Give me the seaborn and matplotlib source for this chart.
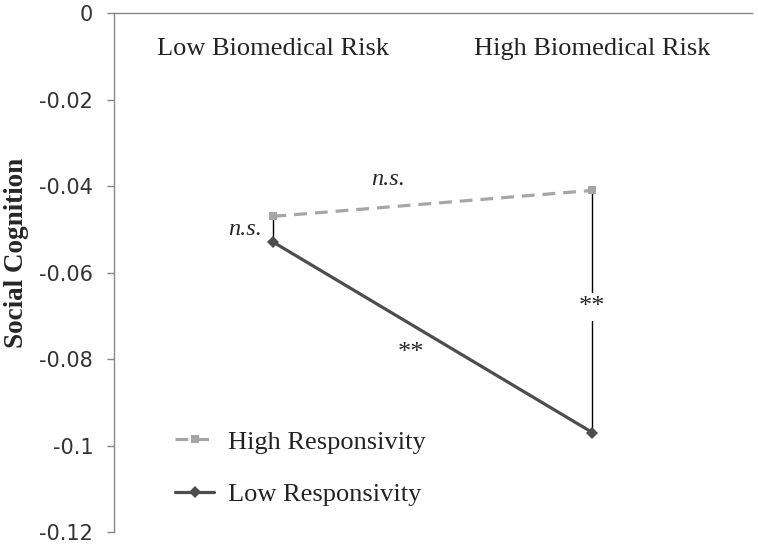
import matplotlib
matplotlib.use("Agg")
import matplotlib.pyplot as plt
import seaborn as sns
import pandas as pd

categories = ["Low Biomedical Risk", "High Biomedical Risk"]
high_resp = [-0.047, -0.041]
low_resp = [-0.053, -0.097]
series_names = ["High Responsivity", "Low Responsivity"]
yticks = [0, -0.02, -0.04, -0.06, -0.08, -0.1, -0.12]
ytick_labels = ["0", "-0.02", "-0.04", "-0.06", "-0.08", "-0.1", "-0.12"]

df = pd.DataFrame({
    "risk": categories * 2,
    "value": high_resp + low_resp,
    "group": [series_names[0]] * 2 + [series_names[1]] * 2,
})

sns.set_style("white")
plt.rcParams["font.family"] = ["Liberation Serif", "DejaVu Serif"]

fig = plt.figure(figsize=(7.58, 5.46), dpi=100)
ax = fig.add_axes([0.1504, 0.0256, 0.8416, 0.9504])

# connecting vertical lines (simple slopes)
for i in range(2):
    ax.plot([i, i], [high_resp[i], low_resp[i]], color="black", lw=1.0, zorder=1)

sns.lineplot(data=df, x="risk", y="value", hue="group", style="group",
             palette={series_names[0]: "#A6A6A6", series_names[1]: "#4D4D4D"},
             markers={series_names[0]: "s", series_names[1]: "D"},
             dashes={series_names[0]: (4, 2.5), series_names[1]: ""},
             markersize=6, linewidth=2.3, markeredgewidth=0,
             ax=ax, zorder=3)

ax.set_xlim(-0.5, 1.5)
ax.set_ylim(-0.12, 0)
ax.set_yticks(yticks)
ax.set_yticklabels(ytick_labels, family="DejaVu Sans", fontsize=15, color="#333333")
ax.tick_params(axis="y", direction="out", length=5, width=1, color="#888888", pad=10, left=True)

ax.xaxis.tick_top()
ax.set_xticks([0, 1])
ax.set_xticklabels(categories, fontsize=19, color="#222222")
ax.tick_params(axis="x", length=0, pad=-34)
ax.set_xlabel("")
ax.set_ylabel("Social Cognition", fontsize=19.5, fontweight="bold")
ax.yaxis.set_label_coords(-0.133, 0.538)

for s in ["right", "bottom"]:
    ax.spines[s].set_visible(False)
for s in ["left", "top"]:
    ax.spines[s].set_color("#888888")
    ax.spines[s].set_linewidth(1)

# annotations
ax.text(-0.09, -0.0500, "n.s.", style="italic", fontsize=17.5, ha="center", va="center")
ax.text(0.36, -0.0385, "n.s.", style="italic", fontsize=17.5, ha="center", va="center")
ax.text(0.43, -0.0785, "**", fontsize=19, ha="center", va="center")
ax.text(1.0, -0.0680, "**", fontsize=19, ha="center", va="center",
        bbox=dict(facecolor="white", edgecolor="none", pad=2), zorder=2)

leg = ax.legend(loc="lower left", bbox_to_anchor=(0.058, 0.004), frameon=False,
                fontsize=19, handlelength=1.5, handletextpad=0.5, labelspacing=1.1)
for t in leg.get_texts():
    t.set_color("#222222")

fig.savefig("out.png", dpi=100)
